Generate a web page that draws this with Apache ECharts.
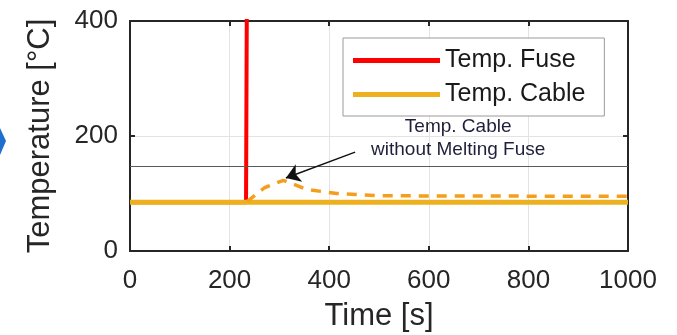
<!DOCTYPE html>
<html>
<head>
<meta charset="utf-8">
<script src="https://cdn.jsdelivr.net/npm/echarts@6/dist/echarts.min.js"></script>
<style>
  html, body { margin: 0; padding: 0; background: #fff; }
  #chart { width: 677px; height: 335px; }
</style>
</head>
<body>
<div id="chart"></div>
<script>
// values
const xTicks = [0, 200, 400, 600, 800, 1000];
const yTicks = [0, 200, 400];

const fuseTime = [0, 233, 235];
const fuseTemp = [85, 85, 520];

const cableTime = [0, 1000];
const cableTemp = [85, 85];

const noFuseTime = [235, 270, 308, 355, 415, 500, 1000];
const noFuseTemp = [86, 110, 123, 107, 100, 96, 95];

const limitTemp = 148;
const arrowFrom = [452, 172];
const arrowTo = [313, 127];
const annotPos = [659, 196];
const annotText = 'Temp. Cable\nwithout Melting Fuse';

const FONT = '"Liberation Sans", Arial, sans-serif';
const AXIS_COLOR = '#262626';
const pairs = (xs, ys) => xs.map((x, i) => [x, ys[i]]);

// fresh objects per axis, MATLAB style box with inward ticks
const axisLine = () => ({ show: true, onZero: false, lineStyle: { color: AXIS_COLOR, width: 2 } });
const axisTick = () => ({ show: true, inside: true, length: 5, lineStyle: { color: AXIS_COLOR, width: 2 } });
const tickFont = { fontFamily: FONT, fontSize: 26, color: AXIS_COLOR };
const nameFont = { fontFamily: FONT, fontSize: 31, color: AXIS_COLOR };

const chart = echarts.init(document.getElementById('chart'));

chart.setOption({
  animation: false,
  // keep the plot box fixed, v6 would otherwise shrink it to fit the names
  grid: { left: 130, right: 49, top: 21, bottom: 84, show: false, outerBoundsMode: 'none' },
  xAxis: [
    {
      type: 'value', min: xTicks[0], max: xTicks[xTicks.length - 1], interval: 200,
      name: 'Time [s]', nameLocation: 'middle', nameGap: 50,
      nameTextStyle: nameFont,
      axisLabel: { ...tickFont, margin: 17, formatter: (v) => String(v) },
      splitLine: { show: true, lineStyle: { color: '#e3e3e3', width: 1 } },
      axisLine: axisLine(),
      axisTick: axisTick(),
    },
    {
      type: 'value', min: xTicks[0], max: xTicks[xTicks.length - 1], interval: 200, position: 'top',
      axisLabel: { show: false }, splitLine: { show: false },
      axisLine: axisLine(),
      axisTick: axisTick(),
    },
  ],
  yAxis: [
    {
      type: 'value', min: yTicks[0], max: yTicks[yTicks.length - 1], interval: 200,
      name: 'Temperature [°C]', nameLocation: 'middle', nameGap: 74,
      nameTextStyle: nameFont,
      axisLabel: { ...tickFont, margin: 12 },
      splitLine: { show: true, lineStyle: { color: '#e3e3e3', width: 1 } },
      axisLine: axisLine(),
      axisTick: axisTick(),
    },
    {
      type: 'value', min: yTicks[0], max: yTicks[yTicks.length - 1], interval: 200, position: 'right',
      axisLabel: { show: false }, splitLine: { show: false },
      axisLine: axisLine(),
      axisTick: axisTick(),
    },
  ],
  legend: {
    data: ['Temp. Fuse', 'Temp. Cable'],
    orient: 'vertical',
    left: 343, top: 38,
    padding: [10, 19, 9, 10],
    itemGap: 9,
    itemWidth: 87, itemHeight: 5,
    itemTextGap: 7,
    icon: 'rect',
    backgroundColor: '#fff',
    borderColor: '#9a9a9a', borderWidth: 1, borderRadius: 0,
    textStyle: { fontFamily: FONT, fontSize: 25, color: '#1a1a1a' },
  },
  series: [
    {
      name: 'Temp. Fuse', type: 'line', showSymbol: false,
      data: pairs(fuseTime, fuseTemp),
      lineStyle: { color: '#ff0000', width: 4 }, itemStyle: { color: '#ff0000' },
      z: 2,
    },
    {
      name: 'Temp. Cable', type: 'line', showSymbol: false,
      data: pairs(cableTime, cableTemp),
      lineStyle: { color: '#edb120', width: 5 }, itemStyle: { color: '#edb120' },
      z: 3,
      markLine: {
        silent: true, symbol: 'none', label: { show: false },
        lineStyle: { color: '#5a5a5a', width: 1, type: 'solid' },
        data: [{ yAxis: limitTemp }],
      },
    },
    {
      name: 'Cable without fuse', type: 'line', showSymbol: false,
      data: pairs(noFuseTime, noFuseTemp),
      lineStyle: { color: '#f59e1e', width: 3.5, type: [10, 8] }, itemStyle: { color: '#f59e1e' },
      z: 4,
      markLine: {
        silent: true, label: { show: false },
        symbol: ['none', 'arrow'], symbolSize: 14,
        lineStyle: { color: '#111', width: 1.5, type: 'solid' },
        data: [[{ coord: arrowFrom }, { coord: arrowTo }]],
      },
    },
  ],
});

const p = chart.convertToPixel({ gridIndex: 0 }, annotPos);
chart.setOption({
  graphic: [
    {
      type: 'text', x: p[0], y: p[1],
      style: {
        text: annotText, fontFamily: FONT, fontSize: 19, lineHeight: 23,
        fill: '#1f1f3a', align: 'center', verticalAlign: 'middle',
      },
    },
    {
      type: 'polygon',
      shape: { points: [[0, 128], [6, 141], [0, 155]] },
      style: { fill: '#1e6fd0' },
    },
  ],
});
</script>
</body>
</html>
